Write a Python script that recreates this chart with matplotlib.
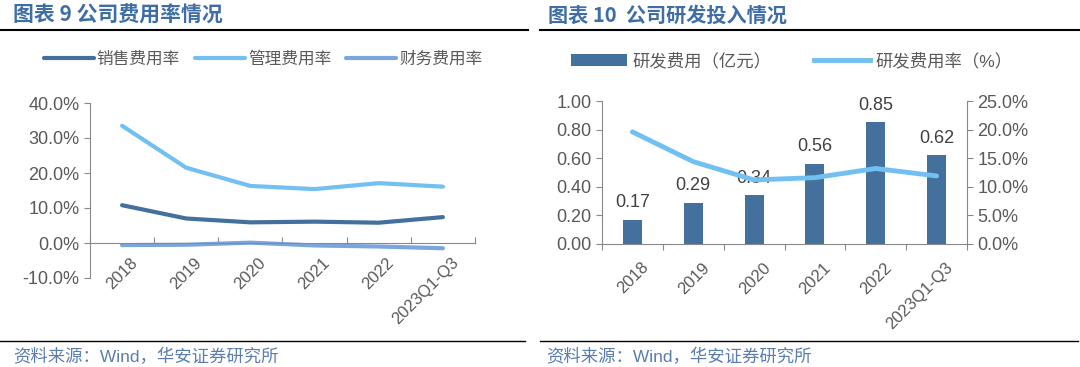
import numpy as np
import matplotlib
matplotlib.use("Agg")
import matplotlib.pyplot as plt
from matplotlib.lines import Line2D

plt.rcParams['font.family'] = ['Liberation Sans', 'Noto Sans CJK SC', 'DejaVu Sans']

# 数据
years = ['2018', '2019', '2020', '2021', '2022', '2023Q1-Q3']
sales_rate = [10.8, 7.0, 5.9, 6.1, 5.8, 7.4]
admin_rate = [33.5, 21.5, 16.3, 15.4, 17.1, 16.1]
fin_rate = [-0.6, -0.5, 0.1, -0.7, -1.0, -1.5]
rd_cost = [0.17, 0.29, 0.34, 0.56, 0.85, 0.62]
rd_rate = [19.6, 14.4, 11.2, 11.6, 13.2, 11.9]

c_dark = '#44709E'
c_light = '#72C0F2'
c_fin = '#7BA5DF'
c_text = '#595959'
c_title = '#3F6EA6'

W, H = 1080, 367
fig = plt.figure(figsize=(W / 100, H / 100), dpi=100)


def px(x0, y0, x1, y1):
    return [x0 / W, 1 - y1 / H, (x1 - x0) / W, (y1 - y0) / H]


def style_axis(ax):
    for s in ['top', 'right']:
        ax.spines[s].set_visible(False)
    for s in ['left', 'bottom']:
        ax.spines[s].set_color('#898989')
    ax.tick_params(colors='#898989', labelcolor=c_text, labelsize=13, length=4)


x = np.arange(len(years))

# 左图：费用率
ax1 = fig.add_axes(px(90, 103, 475, 278))
ax1.plot(x, sales_rate, color=c_dark, lw=3, solid_capstyle='round', label='销售费用率')
ax1.plot(x, admin_rate, color=c_light, lw=3, solid_capstyle='round', label='管理费用率')
ax1.plot(x, fin_rate, color=c_fin, lw=3, solid_capstyle='round', label='财务费用率')
ax1.set_xlim(-0.5, 5.5)
ax1.set_ylim(-10, 40)
ax1.set_yticks([-10, 0, 10, 20, 30, 40])
ax1.set_yticklabels([f'{v:.1f}%' for v in [-10, 0, 10, 20, 30, 40]])
style_axis(ax1)
ax1.spines['bottom'].set_position(('data', 0))
ax1.set_xticks(np.arange(-0.5, 6, 1))
ax1.set_xticklabels([])
ax1.tick_params(axis='x', direction='in', length=4)
for i, lab in enumerate(years):
    ax1.text(i + 0.12, -3.5, lab, rotation=45, ha='right', va='top',
             rotation_mode='anchor', fontsize=12, color=c_text)
ax1.legend(loc='center', bbox_to_anchor=(0.45, 1.25), ncol=3, frameon=False,
           fontsize=12, handlelength=3.0, handletextpad=0.2, columnspacing=0.9,
           labelcolor=c_text)

# 右图：研发投入
ax2 = fig.add_axes(px(602, 101, 967, 244))
bars = ax2.bar(x, rd_cost, width=0.31, color=c_dark, label='研发费用（亿元）')
for i, v in enumerate(rd_cost):
    ax2.text(i, v + 0.06, f'{v:.2f}', ha='center', va='bottom', fontsize=13,
             color='#404040')
ax2.set_xlim(-0.5, 5.5)
ax2.set_ylim(0, 1)
ax2.set_yticks(np.arange(0, 1.01, 0.2))
ax2.set_yticklabels([f'{v:.2f}' for v in np.arange(0, 1.01, 0.2)])
style_axis(ax2)
ax2.set_xticks(np.arange(-0.5, 6, 1))
ax2.set_xticklabels([])
for i, lab in enumerate(years):
    ax2.text(i + 0.14, -0.11, lab, rotation=45, ha='right', va='top',
             rotation_mode='anchor', fontsize=12, color=c_text)

ax3 = ax2.twinx()
ax3.plot(x, rd_rate, color=c_light, lw=3.5, solid_capstyle='round')
ax3.set_ylim(0, 25)
ax3.set_yticks(np.arange(0, 26, 5))
ax3.set_yticklabels([f'{v:.1f}%' for v in np.arange(0, 26, 5)])
for s in ['top', 'left', 'bottom']:
    ax3.spines[s].set_visible(False)
ax3.spines['right'].set_color('#898989')
ax3.tick_params(colors='#898989', labelcolor=c_text, labelsize=13, length=4)

handles = [bars, Line2D([0], [0], color=c_light, lw=3.5)]
ax2.legend(handles, ['研发费用（亿元）', '研发费用率（%）'], loc='center',
           bbox_to_anchor=(0.52, 1.28), ncol=2, frameon=False, fontsize=12.5,
           handlelength=3.2, handletextpad=0.3, columnspacing=2.5,
           labelcolor=c_text)

# 标题与分隔线
fig.text(13 / W, 1 - 15 / H, '图表 9 公司费用率情况', fontsize=15, fontweight='bold',
         color=c_title, va='center', family=['Noto Sans CJK SC'])
fig.text(548 / W, 1 - 15 / H, '图表 10  公司研发投入情况', fontsize=14.5, fontweight='bold',
         color=c_title, va='center', family=['Noto Sans CJK SC'])
fig.add_artist(Line2D([0, 528 / W], [1 - 30 / H] * 2, color='black', lw=1.5))
fig.add_artist(Line2D([540 / W, 1], [1 - 30 / H] * 2, color='black', lw=1.5))
fig.add_artist(Line2D([0, 525 / W], [1 - 341 / H] * 2, color='black', lw=1))
fig.add_artist(Line2D([540 / W, 1078 / W], [1 - 341 / H] * 2, color='black', lw=1))
fig.text(13 / W, 1 - 357 / H, '资料来源：Wind，华安证券研究所', fontsize=12.5,
         color='#5A7DB0', va='center')
fig.text(546 / W, 1 - 357 / H, '资料来源：Wind，华安证券研究所', fontsize=12.5,
         color='#5A7DB0', va='center')

fig.savefig('out.png', dpi=100)
